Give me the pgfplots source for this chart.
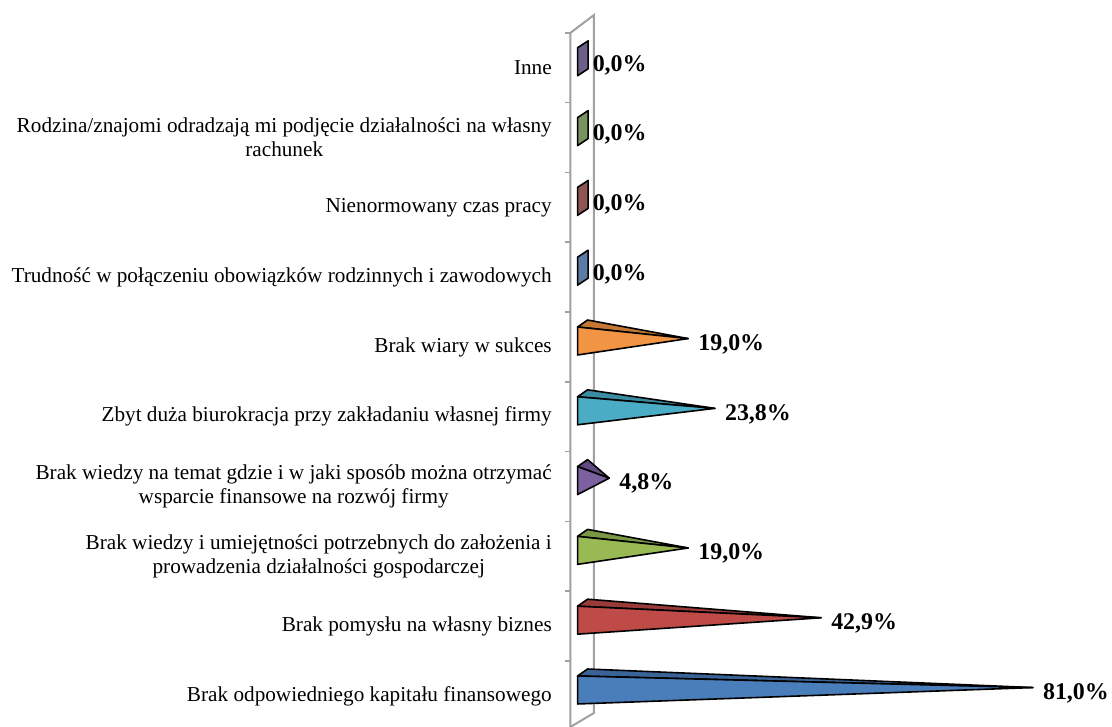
\documentclass[border=0pt]{standalone}
\usepackage{fontspec}
\setmainfont{Liberation Serif}
\usepackage{pgfplots}
\pgfplotsset{compat=1.18}
\definecolor{f0}{HTML}{4A7EBB}\definecolor{t0}{HTML}{3A6498}
\definecolor{f1}{HTML}{BE4B48}\definecolor{t1}{HTML}{983B39}
\definecolor{f2}{HTML}{98B954}\definecolor{t2}{HTML}{7A9743}
\definecolor{f3}{HTML}{7D60A0}\definecolor{t3}{HTML}{614A80}
\definecolor{f4}{HTML}{4AACC5}\definecolor{t4}{HTML}{3A8CA2}
\definecolor{f5}{HTML}{F19443}\definecolor{t5}{HTML}{C47634}
\definecolor{f6}{HTML}{5B7CA4}
\definecolor{f7}{HTML}{8E5552}
\definecolor{f8}{HTML}{789260}
\definecolor{f9}{HTML}{6C5F88}
\definecolor{wall}{HTML}{A0A0A0}
\begin{document}
\begin{tikzpicture}
\begin{axis}[
  scale only axis, width=541.6bp, height=727bp,
  xmin=-2.18, xmax=95.23, ymin=-0.444, ymax=9.971,
  axis x line=none, axis y line*=left, y axis line style={draw=none},
  ytick={0,...,9},
  yticklabels={
    Brak odpowiedniego kapitału finansowego,
    Brak pomysłu na własny biznes,
    {Brak wiedzy i umiejętności potrzebnych do założenia i\\prowadzenia działalności gospodarczej},
    {Brak wiedzy na temat gdzie i w jaki sposób można otrzymać\\wsparcie finansowe na rozwój firmy},
    Zbyt duża biurokracja przy zakładaniu własnej firmy,
    Brak wiary w sukces,
    Trudność w połączeniu obowiązków rodzinnych i zawodowych,
    Nienormowany czas pracy,
    {Rodzina/znajomi odradzają mi podjęcie działalności na własny\\rachunek},
    Inne},
  major tick length=0pt,
  minor ytick={-0.5,0.5,...,9.5}, minor tick length=5bp,
  tick align=outside, tick style={draw=wall, line width=1.6bp},
  yticklabel style={align=center, inner sep=0pt, xshift=-18.5bp, font=\fontsize{21.3}{24}\selectfont},
  clip=false,
]
% walls
\addplot[draw=wall, line width=2bp] coordinates {(-2.18,-0.444) (-2.18,9.5) (2.05,9.756) (2.05,-0.244) (-2.18,-0.444)};
% pyramids: top face then front face
\addplot[fill=t0, draw=black, line width=1.6bp, line join=round] coordinates {(-0.9,0.286) (0.9,0.386) (81.0,0.12)} -- cycle;
\addplot[fill=f0, draw=black, line width=1.6bp, line join=round] coordinates {(-0.9,-0.115) (-0.9,0.286) (81.0,0.12)} -- cycle;
\addplot[fill=t1, draw=black, line width=1.6bp, line join=round] coordinates {(-0.9,1.286) (0.9,1.386) (42.9,1.12)} -- cycle;
\addplot[fill=f1, draw=black, line width=1.6bp, line join=round] coordinates {(-0.9,0.885) (-0.9,1.286) (42.9,1.12)} -- cycle;
\addplot[fill=t2, draw=black, line width=1.6bp, line join=round] coordinates {(-0.9,2.286) (0.9,2.386) (19.0,2.12)} -- cycle;
\addplot[fill=f2, draw=black, line width=1.6bp, line join=round] coordinates {(-0.9,1.885) (-0.9,2.286) (19.0,2.12)} -- cycle;
\addplot[fill=t3, draw=black, line width=1.6bp, line join=round] coordinates {(-0.9,3.286) (0.9,3.386) (4.8,3.12)} -- cycle;
\addplot[fill=f3, draw=black, line width=1.6bp, line join=round] coordinates {(-0.9,2.885) (-0.9,3.286) (4.8,3.12)} -- cycle;
\addplot[fill=t4, draw=black, line width=1.6bp, line join=round] coordinates {(-0.9,4.286) (0.9,4.386) (23.8,4.12)} -- cycle;
\addplot[fill=f4, draw=black, line width=1.6bp, line join=round] coordinates {(-0.9,3.885) (-0.9,4.286) (23.8,4.12)} -- cycle;
\addplot[fill=t5, draw=black, line width=1.6bp, line join=round] coordinates {(-0.9,5.286) (0.9,5.386) (19.0,5.12)} -- cycle;
\addplot[fill=f5, draw=black, line width=1.6bp, line join=round] coordinates {(-0.9,4.885) (-0.9,5.286) (19.0,5.12)} -- cycle;
% zero-length pyramids
\addplot[fill=f6, draw=black, line width=1.6bp, line join=round] coordinates {(-0.9,5.885) (-0.9,6.286) (1.0,6.386) (1.0,5.985)} -- cycle;
\addplot[fill=f7, draw=black, line width=1.6bp, line join=round] coordinates {(-0.9,6.885) (-0.9,7.286) (1.0,7.386) (1.0,6.985)} -- cycle;
\addplot[fill=f8, draw=black, line width=1.6bp, line join=round] coordinates {(-0.9,7.885) (-0.9,8.286) (1.0,8.386) (1.0,7.985)} -- cycle;
\addplot[fill=f9, draw=black, line width=1.6bp, line join=round] coordinates {(-0.9,8.885) (-0.9,9.286) (1.0,9.386) (1.0,8.985)} -- cycle;
% value labels
\addplot[draw=none, mark=none, point meta=x,
  nodes near coords={\pgfmathprintnumber[fixed,fixed zerofill,precision=1,use comma,assume math mode=true]{\pgfplotspointmeta}\%},
  every node near coord/.append style={anchor=west, inner sep=0pt, xshift=10bp, font=\bfseries\fontsize{24}{24}\selectfont}]
  coordinates {(81.0,0.04) (42.9,1.04) (19.0,2.04) (4.8,3.04) (23.8,4.04) (19.0,5.04) (0,6.04) (0,7.04) (0,8.04) (0,9.04)};
\coordinate (BL) at (rel axis cs:0,0);
\coordinate (TR) at (rel axis cs:1,1);
\end{axis}
\pgfresetboundingbox
\useasboundingbox ([xshift=-570.5bp]BL) rectangle (TR);
\end{tikzpicture}
\end{document}
